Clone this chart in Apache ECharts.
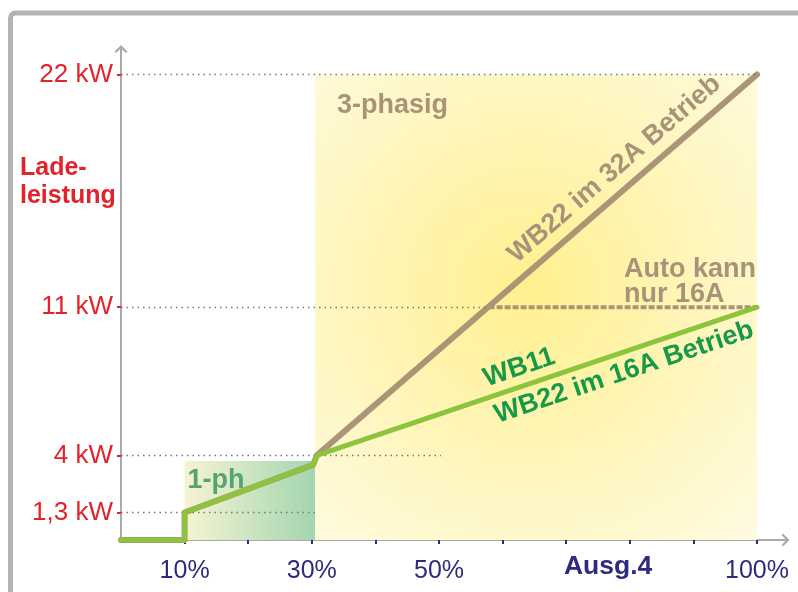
<!DOCTYPE html>
<html><head><meta charset="utf-8">
<script src="https://cdn.jsdelivr.net/npm/echarts@6/dist/echarts.min.js"></script>
<style>html,body{margin:0;padding:0;background:#fff}#c{width:798px;height:592px}</style>
</head><body><div id="c"></div>
<script>
// ---- data ----
const xPercent   = [0, 10, 10, 30.2, 30.8, 100];
const wb22At32A  = [0, 0, 1.3, 3.55, 4, 22];
const wb11At16A  = [0, 0, 1.3, 3.55, 4, 11];
const autoLimitX = [57.8, 100];
const autoLimitY = [11, 11];
const refLevels   = [22, 11, 4, 1.3];
const refLineEnds = [100, 57.8, 50.3, 30.5];
const yTickValues = [1.3, 4, 11, 22];
const yTickLabels = ['1,3 kW', '4 kW', '11 kW', '22 kW'];
const xTickValues = [10, 20, 30, 40, 50, 60, 70, 80, 90, 100];
const xLabelValues = [10, 30, 50, 100];
const xLabelTexts  = ['10%', '30%', '50%', '100%'];
const xAxisTitle = 'Ausg.4';
const xAxisTitleAt = 76.6;
const onePhaseX = [10, 30.5], onePhaseY = [0, 3.73];
const threePhaseX = [30.5, 100], threePhaseY = [0, 22];
const autoNoteAt = [79.1, 11];
const texts = {
  yName: 'Lade-\nleistung', threePh: '3-phasig', onePh: '1-ph',
  wb32: 'WB22 im 32A Betrieb', wb11: 'WB11', wb16: 'WB22 im 16A Betrieb',
  auto: 'Auto kann\nnur 16A'
};

// ---- styles ----
const FONT = "'Liberation Sans', Arial, sans-serif";
const RED = '#e3232b', NAVY = '#2d2b7f', AXIS = '#aaaaaa';
const BROWN = '#ab9576', BROWN_TXT = '#a69378', GREEN = '#8cc43c', GREEN_TXT = '#17994a';
const chevron = 'path://M0,10 L10,0 L20,10 L17.5,12 L10,5 L2.5,12 Z';
const HIDDEN_LINE = {color: 'rgba(0,0,0,0)', width: 0};

const chart = echarts.init(document.getElementById('c'), null, {renderer: 'canvas'});
const pairs = (xs, ys) => xs.map((x, i) => [x, ys[i]]);
const n = xPercent.length;
const boldLabel = (color, extra) => Object.assign({show: true, color: color, fontSize: 27, fontWeight: 'bold', fontFamily: FONT, opacity: 1}, extra);

const option = {
  animation: false,
  backgroundColor: '#ffffff',
  textStyle: {fontFamily: FONT},
  title: {
    text: texts.yName, left: 15, top: 149,
    textStyle: {color: RED, fontSize: 25, fontWeight: 'bold', lineHeight: 28, fontFamily: FONT}
  },
  graphic: [{
    type: 'rect', z: -10, silent: true,
    shape: {x: 10.5, y: 13, width: 840, height: 640, r: 5},
    style: {fill: 'none', stroke: '#b3b3b3', lineWidth: 5}
  }],
  grid: {left: 121, right: 12.4, top: 49, bottom: 52, containLabel: false},
  xAxis: {
    type: 'value', min: 0, max: 104.5,
    splitLine: {show: false},
    axisLine: {lineStyle: {color: AXIS, width: 2}, symbol: ['none', chevron], symbolSize: [13, 8]},
    axisTick: {show: true, customValues: xTickValues, length: 4, lineStyle: {color: NAVY, width: 2}},
    axisLabel: {
      customValues: xLabelValues.concat([xAxisTitleAt]),
      margin: 18, color: NAVY, fontSize: 25, lineHeight: 26, fontFamily: FONT,
      formatter: v => {
        const i = xLabelValues.indexOf(v);
        if (i >= 0) return xLabelTexts[i];
        return '{b|' + xAxisTitle + '}';
      },
      rich: {b: {fontSize: 26.5, fontWeight: 'bold', color: NAVY, fontFamily: FONT, lineHeight: 18}}
    }
  },
  yAxis: {
    type: 'value', min: 0, max: 23.2,
    splitLine: {show: false},
    axisLine: {show: true, lineStyle: {color: AXIS, width: 2}, symbol: ['none', chevron], symbolSize: [13, 8]},
    axisTick: {show: true, customValues: yTickValues, length: 4, lineStyle: {color: RED, width: 2}},
    axisLabel: {
      customValues: yTickValues, margin: 8, color: RED, fontSize: 26, fontFamily: FONT,
      formatter: v => yTickLabels[yTickValues.indexOf(v)]
    }
  },
  series: [
    {
      type: 'line', data: [], z: 1, silent: true,
      markArea: {
        silent: true,
        data: [
          [{
            coord: [threePhaseX[0], threePhaseY[1]],
            itemStyle: {color: {type: 'radial', x: 0.48, y: 0.46, r: 0.78,
              colorStops: [{offset: 0, color: '#fff08e'}, {offset: 0.55, color: '#fff6bf'}, {offset: 1, color: '#fffbe2'}]}},
            label: boldLabel(BROWN_TXT, {position: 'insideTopLeft', offset: [17, 13], formatter: texts.threePh})
          }, {coord: [threePhaseX[1], threePhaseY[0]]}],
          [{
            coord: [onePhaseX[0], onePhaseY[1]],
            itemStyle: {color: {type: 'linear', x: 0, y: 0, x2: 1, y2: 0,
              colorStops: [{offset: 0, color: '#f6f4d2'}, {offset: 1, color: '#a3d5b0'}]}},
            label: boldLabel('#55a574', {position: 'insideTopLeft', offset: [-2, 1], formatter: texts.onePh})
          }, {coord: [onePhaseX[1], onePhaseY[0]]}]
        ]
      }
    },
    {
      type: 'line', data: [], z: 2, silent: true,
      markLine: {
        silent: true, symbol: ['none', 'none'], label: {show: false},
        lineStyle: {color: '#777', width: 1.3, type: [1.5, 4]},
        data: refLevels.map((lv, i) => [{coord: [0, lv]}, {coord: [refLineEnds[i], lv]}])
      }
    },
    {
      name: 'WB22 32A', type: 'line', z: 3, silent: true,
      data: pairs(xPercent, wb22At32A), showSymbol: false, symbol: 'none',
      lineStyle: {color: BROWN, width: 6, cap: 'round', join: 'round'},
      markLine: {
        silent: true, symbol: ['none', 'none'], lineStyle: HIDDEN_LINE,
        data: [[{coord: [xPercent[n - 2], wb22At32A[n - 2]], lineStyle: HIDDEN_LINE,
                 label: boldLabel(BROWN_TXT, {position: 'insideEndTop', distance: [34, 8], formatter: texts.wb32})},
                {coord: [xPercent[n - 1], wb22At32A[n - 1]]}]]
      }
    },
    {
      name: 'Auto 16A', type: 'line', z: 4, silent: true,
      data: pairs(autoLimitX, autoLimitY), showSymbol: false, symbol: 'none',
      lineStyle: {color: BROWN, width: 4, type: [6, 2]},
      markPoint: {
        silent: true, symbol: 'circle', symbolSize: 0,
        data: [{coord: autoNoteAt,
          label: boldLabel(BROWN_TXT, {position: [0, 0], align: 'left', verticalAlign: 'bottom',
            formatter: texts.auto, lineHeight: 25})}]
      }
    },
    {
      name: 'WB11 16A', type: 'line', z: 5, silent: true,
      data: pairs(xPercent, wb11At16A), showSymbol: false, symbol: 'none',
      lineStyle: {color: GREEN, width: 5, cap: 'round', join: 'round'},
      markLine: {
        silent: true, symbol: ['none', 'none'], lineStyle: HIDDEN_LINE,
        data: [
          [{coord: [xPercent[n - 2], wb11At16A[n - 2]], lineStyle: HIDDEN_LINE,
            label: boldLabel(GREEN_TXT, {position: 'insideStartTop', distance: [183, 5], formatter: texts.wb11})},
           {coord: [xPercent[n - 1], wb11At16A[n - 1]]}],
          [{coord: [xPercent[n - 2], wb11At16A[n - 2]], lineStyle: HIDDEN_LINE,
            label: boldLabel(GREEN_TXT, {position: 'insideEndBottom', distance: [11, 6], formatter: texts.wb16})},
           {coord: [xPercent[n - 1], wb11At16A[n - 1]]}]
        ]
      }
    }
  ]
};
chart.setOption(option);
</script></body></html>
